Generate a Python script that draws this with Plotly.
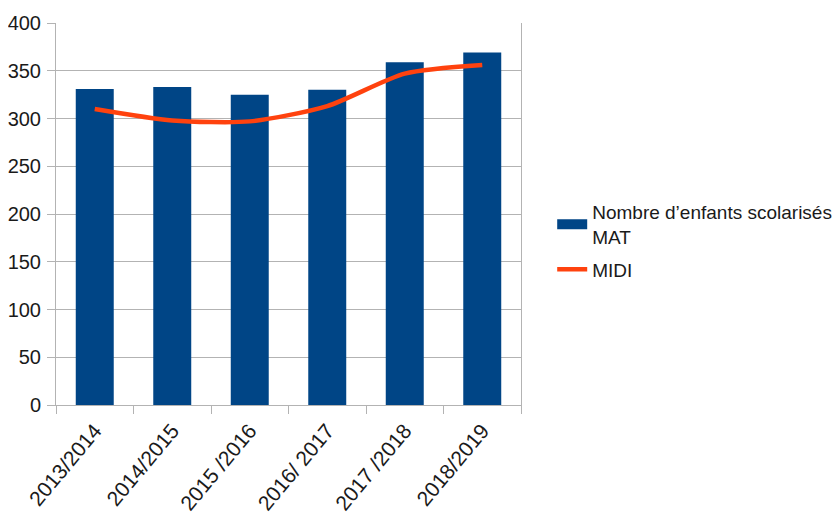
import plotly.graph_objects as go

categories = ["2013/2014", "2014/2015", "2015 /2016", "2016/ 2017", "2017 /2018", "2018/2019"]
mat_values = [331, 333, 325, 330, 359, 369]
midi_values = [310, 298, 297, 313, 347, 356]
y_ticks = [0, 50, 100, 150, 200, 250, 300, 350, 400]

FONT = "Liberation Sans Narrow, Liberation Sans, Arial, sans-serif"
BLUE = "#004586"
ORANGE = "#ff420e"

fig = go.Figure()
fig.add_trace(go.Bar(
    x=categories, y=mat_values, showlegend=False, legendgroup="mat",
    name="Nombre d\u2019enfants scolarisés MAT",
    marker=dict(color=BLUE, line=dict(width=0)),
))
# legend entry for the bars (wide rectangle symbol as in the reference)
fig.add_trace(go.Scatter(
    x=[None], y=[None], mode="lines", legendgroup="mat",
    name="Nombre d\u2019enfants scolarisés<br>MAT",
    line=dict(color=BLUE, width=10),
))
fig.add_trace(go.Scatter(
    x=categories, y=midi_values, name="MIDI", mode="lines", legendgroup="midi",
    line=dict(color=ORANGE, width=4.5, shape="spline", smoothing=0.7),
))

fig.update_layout(
    width=832, height=513,
    margin=dict(l=48, r=319, t=15, b=116, autoexpand=False),
    paper_bgcolor="white", plot_bgcolor="white",
    font=dict(family=FONT, size=19, color="#1a1a1a"),
    bargap=0.51,
    showlegend=True,
    legend=dict(x=1.68, xanchor="right", y=0.555, yanchor="top",
                font=dict(family=FONT, size=19, color="#1a1a1a"),
                traceorder="grouped", tracegroupgap=5),
    xaxis=dict(
        type="category", tickson="boundaries", ticks="outside", ticklen=8,
        tickcolor="#b3b3b3", showline=True, linecolor="#b3b3b3", linewidth=1,
        showgrid=False, tickangle=-50, tickfont=dict(size=21),
        automargin=False, ticklabelstandoff=4,
    ),
    yaxis=dict(
        range=[0, 400], tickvals=y_ticks, ticks="outside", ticklen=8,
        tickcolor="#b3b3b3", showline=True, mirror=True, linecolor="#b3b3b3",
        linewidth=1, showgrid=True, gridcolor="#b3b3b3", gridwidth=1,
        zeroline=False, tickfont=dict(size=20), automargin=False,
        ticklabelstandoff=2,
    ),
)

fig.write_html("out.html")
